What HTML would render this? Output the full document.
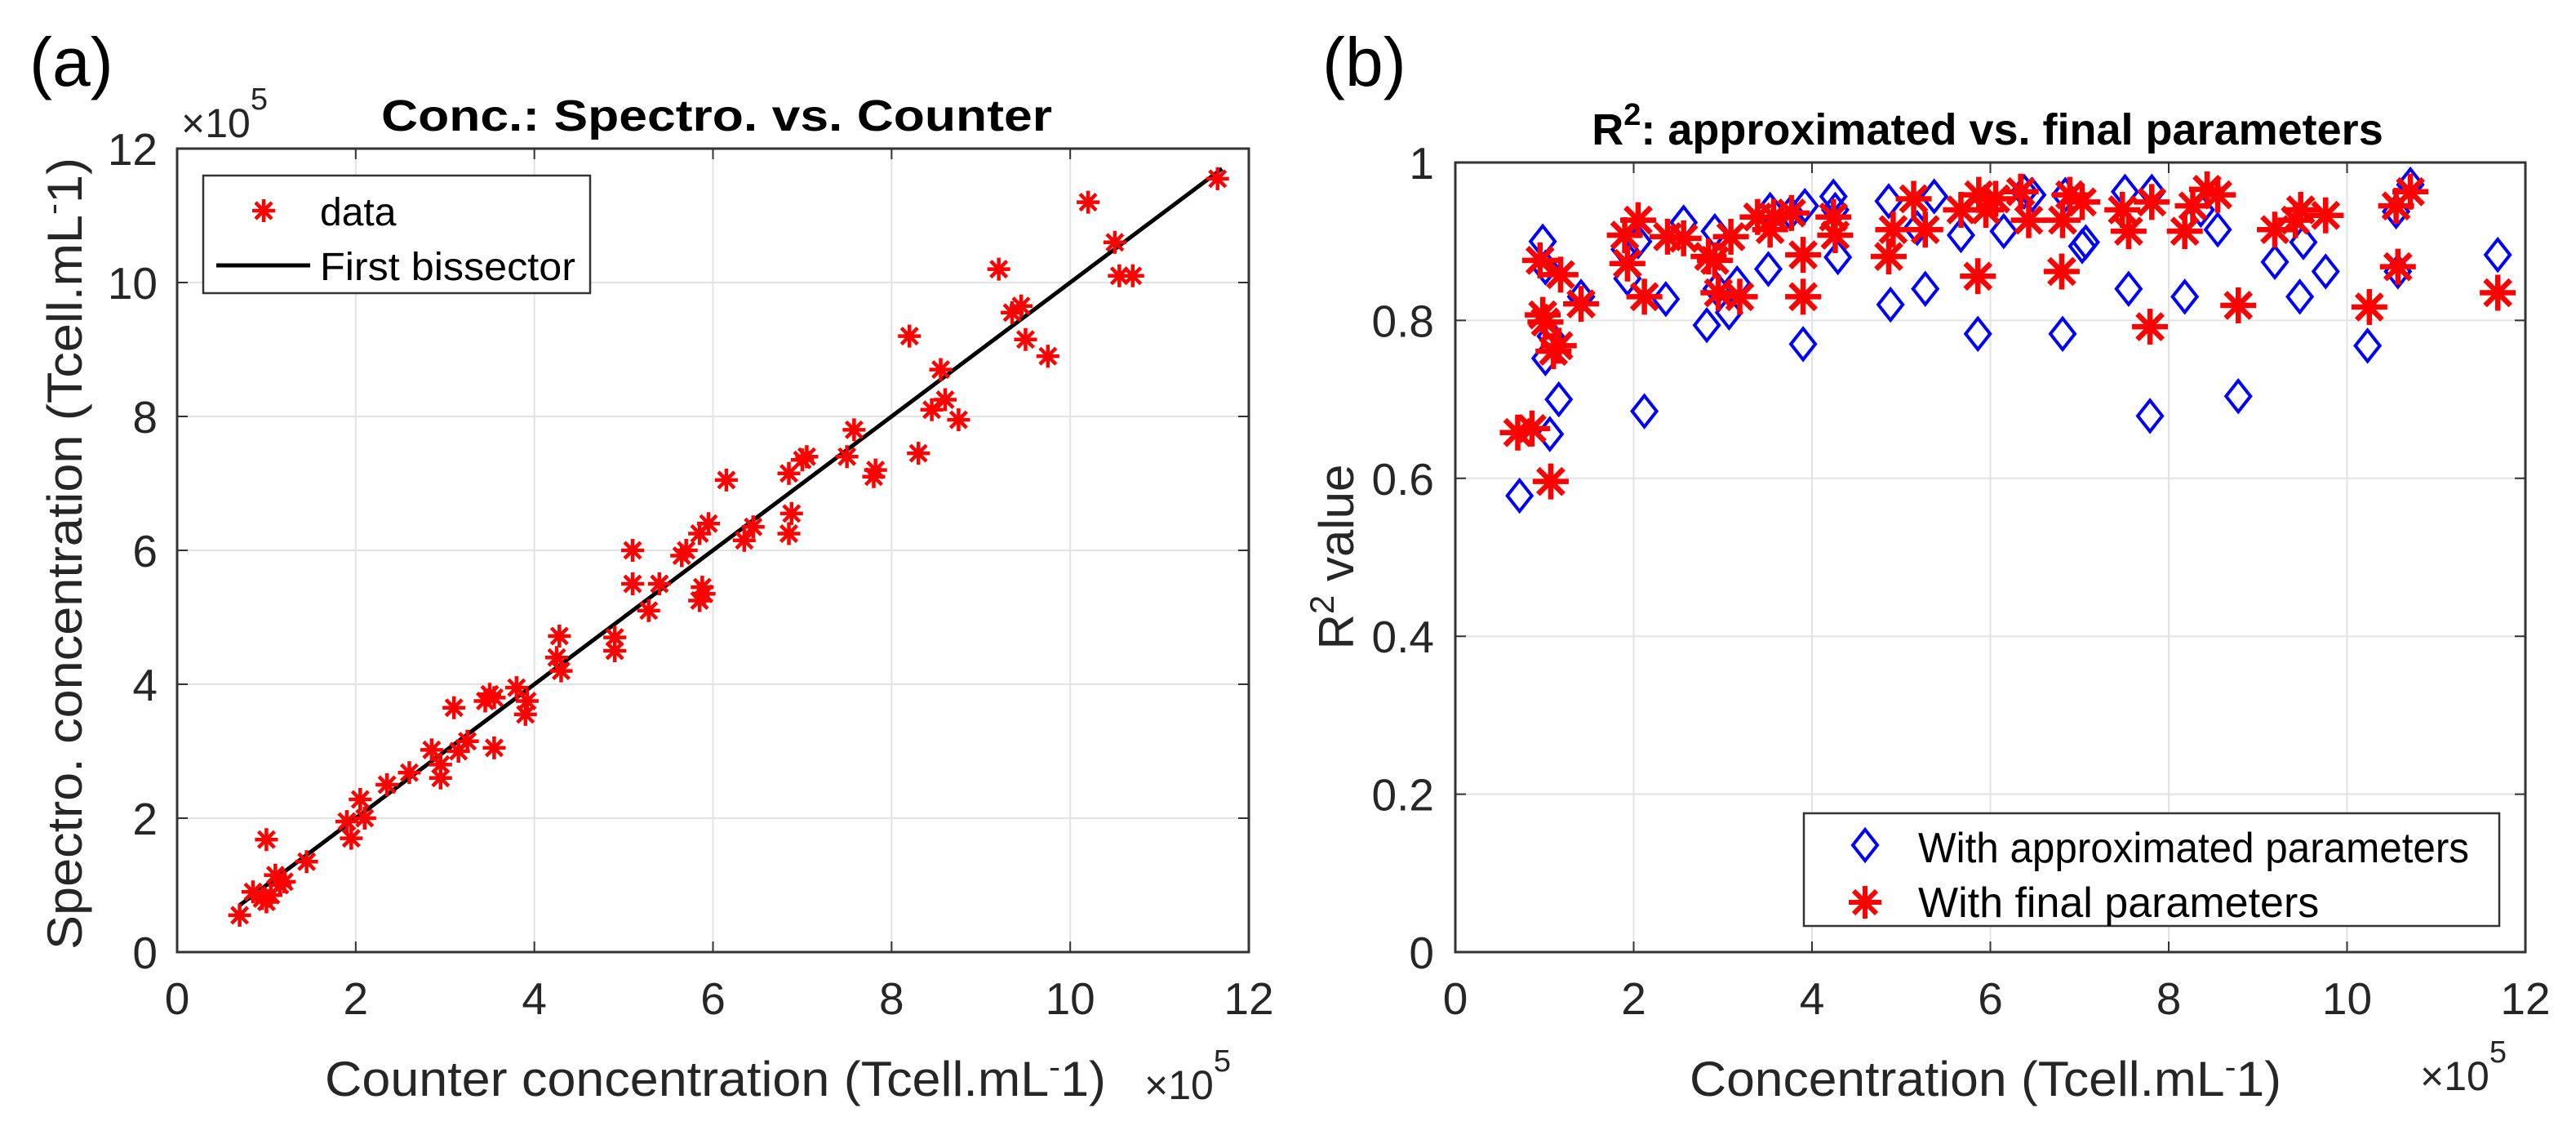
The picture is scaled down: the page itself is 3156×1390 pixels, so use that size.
<!DOCTYPE html>
<html><head><meta charset="utf-8"><style>
html,body{margin:0;padding:0;background:#fff;}
svg{display:block;font-family:"Liberation Sans",Arial,sans-serif;}
</style></head><body>
<svg id="fig" width="3156" height="1390" viewBox="0 0 3156 1390" xmlns="http://www.w3.org/2000/svg">
<rect width="3156" height="1390" fill="#fff"/>
<g id="pa"></g>
<g id="pb"></g>
</svg>
<script>
// Panel (a) data (units of 1e5)
const aCounter = [0.7,0.85,1.0,0.95,1.0,1.05,1.1,1.15,1.2,1.45,1.9,1.95,2.05,2.1,2.35,2.6,2.85,2.95,2.95,3.1,3.15,3.25,3.45,3.5,3.55,3.55,3.8,3.9,3.92,4.25,4.28,4.3,4.9,4.9,5.1,5.1,5.28,5.4,5.65,5.7,5.85,5.85,5.88,5.9,5.95,6.15,6.35,6.45,6.85,6.85,6.88,7.0,7.05,7.5,7.58,7.8,7.82,8.2,8.3,8.45,8.55,8.6,8.75,9.2,9.35,9.45,9.5,9.75,10.2,10.5,10.55,10.7,11.65];
const aSpectro = [0.55,0.9,1.68,0.8,0.75,0.85,1.15,1.0,1.05,1.35,1.95,1.7,2.28,2.0,2.5,2.68,3.02,2.6,2.8,3.65,3.0,3.15,3.75,3.85,3.05,3.8,3.95,3.55,3.75,4.4,4.72,4.2,4.5,4.7,6.0,5.5,5.1,5.5,5.92,6.0,6.25,5.25,5.45,5.35,6.4,7.05,6.15,6.35,7.15,6.25,6.55,7.35,7.4,7.4,7.8,7.1,7.2,9.2,7.45,8.1,8.7,8.25,7.95,10.2,9.55,9.65,9.15,8.9,11.2,10.6,10.1,10.1,11.55];
const bisector = [0.7,11.7];
const aTicks = [0,2,4,6,8,10,12];
// Panel (b) data
const bApproxX = [0.72,0.98,1.01,1.01,1.06,1.07,1.16,1.41,1.90,1.93,2.05,2.12,2.36,2.56,2.82,2.91,2.93,3.07,3.16,3.51,3.53,3.76,3.9,3.92,4.24,4.26,4.29,4.86,4.88,5.18,5.27,5.37,5.67,5.86,6.15,6.38,6.47,6.81,6.84,7.03,7.07,7.51,7.55,7.79,7.81,8.18,8.36,8.55,8.78,9.19,9.47,9.51,9.76,10.23,10.55,10.57,10.71,11.69];
const bApproxY = [0.578,0.90,0.867,0.752,0.656,0.78,0.70,0.83,0.89,0.853,0.90,0.685,0.827,0.924,0.794,0.913,0.84,0.81,0.847,0.865,0.94,0.936,0.77,0.945,0.957,0.94,0.88,0.951,0.82,0.917,0.84,0.957,0.908,0.783,0.913,0.963,0.959,0.783,0.959,0.894,0.899,0.963,0.84,0.679,0.963,0.83,0.94,0.915,0.704,0.874,0.83,0.899,0.862,0.768,0.938,0.862,0.972,0.883];
const bFinalX = [0.70,0.86,0.95,0.98,1.01,1.07,1.10,1.16,1.18,1.41,1.90,1.93,2.05,2.12,2.38,2.56,2.84,2.91,2.95,3.09,3.19,3.39,3.53,3.57,3.77,3.9,3.9,4.24,4.26,4.86,4.91,5.14,5.27,5.67,5.86,5.87,5.95,6.06,6.34,6.43,6.80,6.81,6.89,7.03,7.48,7.55,7.79,7.81,8.18,8.27,8.43,8.55,8.78,9.19,9.42,9.48,9.76,10.25,10.55,10.57,10.71,11.69];
const bFinalY = [0.658,0.663,0.876,0.807,0.798,0.596,0.761,0.768,0.858,0.821,0.908,0.872,0.927,0.83,0.906,0.904,0.881,0.876,0.835,0.906,0.83,0.931,0.915,0.931,0.936,0.883,0.83,0.931,0.908,0.881,0.915,0.954,0.915,0.94,0.856,0.959,0.94,0.954,0.963,0.927,0.862,0.927,0.959,0.95,0.94,0.913,0.792,0.95,0.913,0.945,0.966,0.959,0.819,0.915,0.927,0.94,0.933,0.817,0.945,0.868,0.963,0.835];
const bXTicks = [0,2,4,6,8,10,12];
const bYTicks = [0,0.2,0.4,0.6,0.8,1];
const bYTickLabels = ["0","0.2","0.4","0.6","0.8","1"];

const NS="http://www.w3.org/2000/svg";
function mk(parent,tag,attrs,text){const e=document.createElementNS(NS,tag);for(const k in attrs)e.setAttribute(k,attrs[k]);if(text!==undefined)e.textContent=text;parent.appendChild(e);return e;}
function star(g,cx,cy,r,sw){let d="";for(let i=0;i<4;i++){const a=i*Math.PI/4;d+=`M${cx-r*Math.cos(a)},${cy-r*Math.sin(a)}L${cx+r*Math.cos(a)},${cy+r*Math.sin(a)}`;}return mk(g,"path",{d:d,stroke:"#ff0000","stroke-width":sw,fill:"none"});}
function diamond(g,cx,cy,w,h){return mk(g,"path",{d:`M${cx},${cy-h}L${cx+w},${cy}L${cx},${cy+h}L${cx-w},${cy}Z`,stroke:"#0000ff","stroke-width":4,fill:"none"});}

// ---------- Panel A ----------
const pa=document.getElementById('pa');
const aX0=217,aX1=1530,aY0=1166,aY1=182;
const ax=v=>aX0+v/12*(aX1-aX0);
const ay=v=>aY0-v/12*(aY0-aY1);
aTicks.forEach(t=>{
  let l=mk(pa,"line",{x1:ax(t),x2:ax(t),y1:aY0,y2:aY1,stroke:"#e3e3e3","stroke-width":2});
  
  
  l=mk(pa,"line",{x1:aX0,x2:aX1,y1:ay(t),y2:ay(t),stroke:"#e3e3e3","stroke-width":2});
  
  
});
mk(pa,"rect",{x:aX0,y:aY1,width:aX1-aX0,height:aY0-aY1,fill:"none",stroke:"#333","stroke-width":3});
aTicks.forEach(t=>{
  mk(pa,"path",{d:`M${ax(t)},${aY0}v-13M${ax(t)},${aY1}v13M${aX0},${ay(t)}h13M${aX1},${ay(t)}h-13`,stroke:"#333","stroke-width":2});
  let tx=mk(pa,"text",{x:ax(t),y:1242,"font-size":55,"text-anchor":"middle",fill:"#262626"},String(t));
  
  
  tx=mk(pa,"text",{x:193,y:ay(t)+20,"font-size":55,"text-anchor":"end",fill:"#262626"},String(t));
  
  
});
let bl=mk(pa,"line",{x1:ax(bisector[0]),y1:ay(bisector[0]),x2:ax(bisector[1]),y2:ay(bisector[1]),stroke:"#000","stroke-width":5});


aCounter.forEach((x,i)=>{
  const s=star(pa,ax(x),ay(aSpectro[i]),14,4.5);
  
  
});

// ---------- Panel B ----------
const pb=document.getElementById('pb');
const bX0=1783,bX1=3094,bY0=1166,bY1=199;
const bx=v=>bX0+v/12*(bX1-bX0);
const by=v=>bY0-v*(bY0-bY1);
bXTicks.forEach(t=>{
  let l=mk(pb,"line",{x1:bx(t),x2:bx(t),y1:bY0,y2:bY1,stroke:"#e3e3e3","stroke-width":2});
  
  
});
bYTicks.forEach(t=>{
  let l=mk(pb,"line",{x1:bX0,x2:bX1,y1:by(t),y2:by(t),stroke:"#e3e3e3","stroke-width":2});
  
  
});
mk(pb,"rect",{x:bX0,y:bY1,width:bX1-bX0,height:bY0-bY1,fill:"none",stroke:"#333","stroke-width":3});
bXTicks.forEach(t=>{
  mk(pb,"path",{d:`M${bx(t)},${bY0}v-13M${bx(t)},${bY1}v13`,stroke:"#333","stroke-width":2});
  let tx=mk(pb,"text",{x:bx(t),y:1242,"font-size":55,"text-anchor":"middle",fill:"#262626"},String(t));
  
  
});
bYTicks.forEach((t,i)=>{
  mk(pb,"path",{d:`M${bX0},${by(t)}h13M${bX1},${by(t)}h-13`,stroke:"#333","stroke-width":2});
  let tx=mk(pb,"text",{x:1757,y:by(t)+20,"font-size":55,"text-anchor":"end",fill:"#262626"},bYTickLabels[i]);
  
  
});
bApproxX.forEach((x,i)=>{
  const d=diamond(pb,bx(x),by(bApproxY[i]),15,19);
  
  
});
bFinalX.forEach((x,i)=>{
  const s=star(pb,bx(x),by(bFinalY[i]),22,6.5);
  
  
});
</script>
<svg style="position:absolute;left:0;top:0" width="3156" height="1390" xmlns="http://www.w3.org/2000/svg">
<g font-family="Liberation Sans, Arial, sans-serif">
<text x="36" y="105" font-size="84" fill="#000">(a)</text>
<text x="878" y="160" font-size="54" font-weight="bold" text-anchor="middle" textLength="822" lengthAdjust="spacingAndGlyphs" fill="#000">Conc.: Spectro. vs. Counter</text>
<text x="222" y="168" font-size="50" fill="#262626">×10<tspan dy="-34" font-size="38">5</tspan></text>
<text transform="translate(100,678) rotate(-90)" font-size="60" text-anchor="middle" textLength="970" lengthAdjust="spacingAndGlyphs" fill="#262626">Spectro. concentration (Tcell.mL<tspan dy="-22" font-size="40">-</tspan><tspan dy="22">1)</tspan></text>
<text x="398" y="1342" font-size="60" textLength="957" lengthAdjust="spacingAndGlyphs" fill="#262626">Counter concentration (Tcell.mL<tspan dy="-22" font-size="40">-</tspan><tspan dy="22">1)</tspan></text>
<text x="1402" y="1346" font-size="50" fill="#262626">×10<tspan dy="-34" font-size="38">5</tspan></text>
<g>
<rect x="249" y="215" width="474" height="144" fill="#fff" stroke="#333" stroke-width="2.5"/>
<path d="M309,258h28M323,244v28M313,248l20,20M333,248l-20,20" stroke="#f00" stroke-width="4.5"/>
<text x="392" y="276" font-size="48" fill="#000">data</text>
<line x1="265" y1="325" x2="380" y2="325" stroke="#000" stroke-width="5"/>
<text x="392" y="343" font-size="48" textLength="313" lengthAdjust="spacingAndGlyphs" fill="#000">First bissector</text>
</g>
<text x="1620" y="105" font-size="84" fill="#000">(b)</text>
<text x="2435" y="177" font-size="54" font-weight="bold" text-anchor="middle" fill="#000">R<tspan dy="-24" font-size="38">2</tspan><tspan dy="24">: approximated vs. final parameters</tspan></text>
<text transform="translate(1658,682) rotate(-90)" font-size="60" text-anchor="middle" fill="#262626">R<tspan dy="-24" font-size="42">2</tspan><tspan dy="24"> value</tspan></text>
<text x="2070" y="1342" font-size="60" textLength="725" lengthAdjust="spacingAndGlyphs" fill="#262626">Concentration (Tcell.mL<tspan dy="-22" font-size="40">-</tspan><tspan dy="22">1)</tspan></text>
<text x="2965" y="1335" font-size="50" fill="#262626">×10<tspan dy="-34" font-size="38">5</tspan></text>
<g>
<rect x="2210" y="996" width="852" height="138" fill="#fff" stroke="#333" stroke-width="2.5"/>
<path d="M2285,1016L2300,1035L2285,1054L2270,1035Z" stroke="#00f" stroke-width="4" fill="none"/>
<text x="2350" y="1056" font-size="52" textLength="675" lengthAdjust="spacingAndGlyphs" fill="#000">With approximated parameters</text>
<path d="M2265,1105h40M2285,1085v40M2271,1091l28,28M2299,1091l-28,28" stroke="#f00" stroke-width="6"/>
<text x="2350" y="1123" font-size="52" fill="#000">With final parameters</text>
</g>
</g>
</svg>
</body></html>
